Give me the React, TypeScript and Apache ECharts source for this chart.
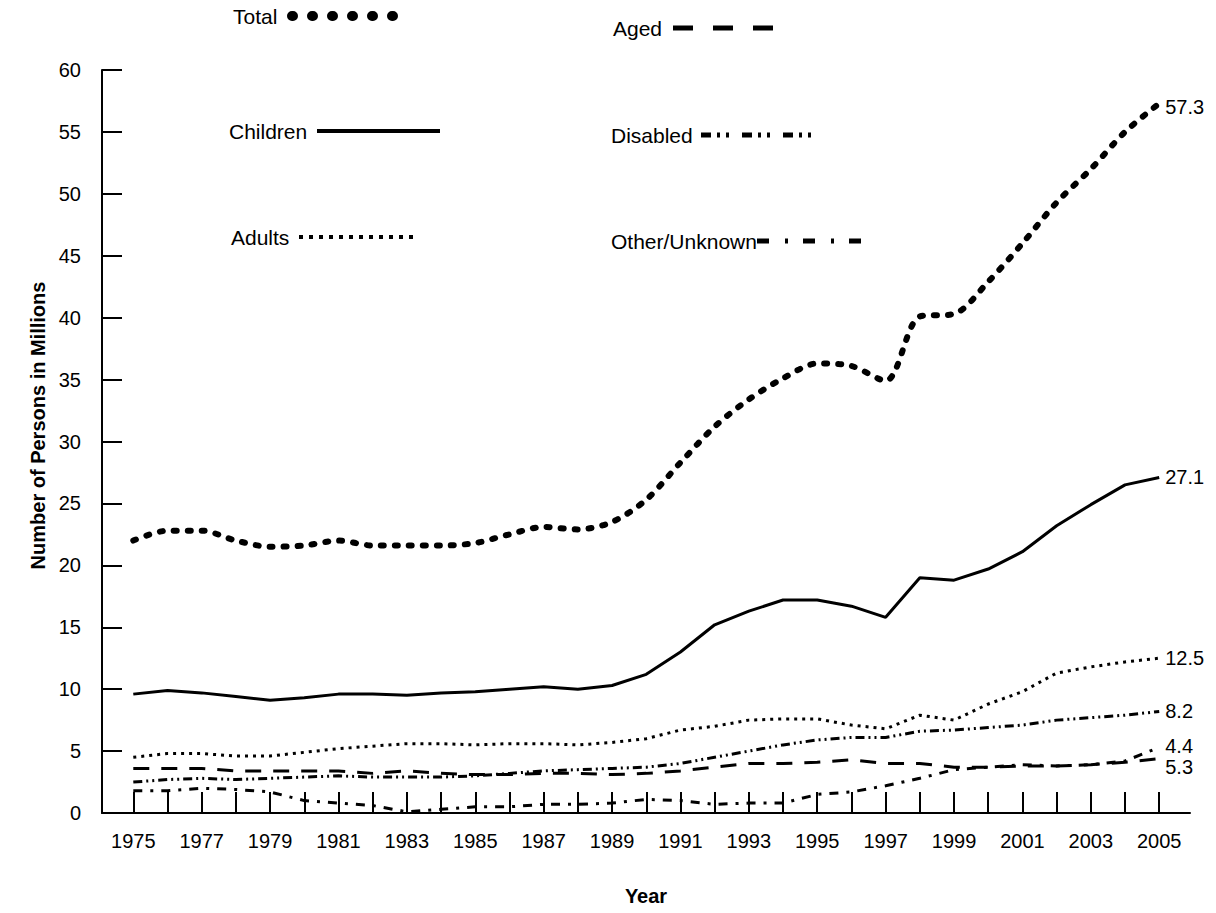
import React, { useEffect, useRef } from 'react';
import * as echarts from 'echarts';

const years = [1975, 1976, 1977, 1978, 1979, 1980, 1981, 1982, 1983, 1984, 1985, 1986, 1987, 1988, 1989, 1990, 1991, 1992, 1993, 1994, 1995, 1996, 1997, 1998, 1999, 2000, 2001, 2002, 2003, 2004, 2005];
const labelYears = [1975, 1977, 1979, 1981, 1983, 1985, 1987, 1989, 1991, 1993, 1995, 1997, 1999, 2001, 2003, 2005];

const total = [22.0, 22.8, 22.8, 22.0, 21.5, 21.6, 22.0, 21.6, 21.6, 21.6, 21.8, 22.5, 23.1, 22.9, 23.5, 25.3, 28.3, 31.2, 33.4, 35.1, 36.3, 36.1, 34.9, 40.1, 40.3, 42.9, 46.0, 49.3, 52.0, 55.0, 57.3];
const children = [9.6, 9.9, 9.7, 9.4, 9.1, 9.3, 9.6, 9.6, 9.5, 9.7, 9.8, 10.0, 10.2, 10.0, 10.3, 11.2, 13.0, 15.2, 16.3, 17.2, 17.2, 16.7, 15.8, 19.0, 18.8, 19.7, 21.1, 23.2, 24.9, 26.5, 27.1];
const adults = [4.5, 4.8, 4.8, 4.6, 4.6, 4.9, 5.2, 5.4, 5.6, 5.6, 5.5, 5.6, 5.6, 5.5, 5.7, 6.0, 6.7, 7.0, 7.5, 7.6, 7.6, 7.1, 6.8, 7.9, 7.5, 8.8, 9.8, 11.3, 11.8, 12.2, 12.5];
const aged = [3.6, 3.6, 3.6, 3.4, 3.4, 3.4, 3.4, 3.2, 3.4, 3.2, 3.1, 3.1, 3.2, 3.2, 3.1, 3.2, 3.4, 3.7, 4.0, 4.0, 4.1, 4.3, 4.0, 4.0, 3.7, 3.7, 3.8, 3.8, 3.9, 4.1, 4.4];
const disabled = [2.5, 2.7, 2.8, 2.7, 2.8, 2.9, 3.0, 2.9, 2.9, 2.9, 3.0, 3.2, 3.4, 3.5, 3.6, 3.7, 4.0, 4.5, 5.0, 5.5, 5.9, 6.1, 6.1, 6.6, 6.7, 6.9, 7.1, 7.5, 7.7, 7.9, 8.2];
const other = [1.8, 1.8, 2.0, 1.9, 1.7, 1.0, 0.8, 0.6, 0.1, 0.3, 0.5, 0.5, 0.7, 0.7, 0.8, 1.1, 1.0, 0.7, 0.8, 0.8, 1.5, 1.7, 2.2, 2.8, 3.5, 3.7, 3.9, 3.8, 3.9, 4.2, 5.3];

const seriesNames = ['Total', 'Children', 'Adults', 'Aged', 'Disabled', 'Other/Unknown'];

const FONT = "'Liberation Sans', Arial, Helvetica, sans-serif";

export default function App() {
  const ref = useRef<HTMLDivElement>(null);

  useEffect(() => {
    const chart = echarts.init(ref.current as HTMLDivElement, null, { renderer: 'svg' });
    const pair = (arr: number[]) => years.map((y, i) => [y, arr[i]]);

    const mk = (name: string, data: number[], lineStyle: any, offset: number[], smooth: any = false) => ({
      name,
      type: 'line',
      data: pair(data),
      showSymbol: false,
      symbol: 'none',
      smooth,
      silent: true,
      lineStyle: { color: '#000', ...lineStyle },
      emphasis: { disabled: true },
      endLabel: {
        show: true,
        formatter: (p: any) => Number(p.value[1]).toFixed(1),
        color: '#000',
        fontSize: 20,
        fontFamily: FONT,
        distance: 6,
        offset,
      },
    });

    const legendText = (text: string, x: number, y: number) => ({
      type: 'text',
      x,
      y,
      silent: true,
      style: {
        text,
        fill: '#000',
        fontSize: 21,
        fontFamily: FONT,
        align: 'left',
        verticalAlign: 'middle',
        textAlign: 'left',
        textVerticalAlign: 'middle',
      },
    });
    const legendLine = (x1: number, x2: number, y: number, lineWidth: number, lineDash: number[] | null, lineCap = 'butt') => ({
      type: 'line',
      silent: true,
      shape: { x1, y1: y, x2, y2: y },
      style: { stroke: '#000', lineWidth, lineDash: lineDash || undefined, lineCap },
    });

    chart.setOption({
      animation: false,
      backgroundColor: '#fff',
      grid: { left: 102, right: 26, top: 70, bottom: 100, containLabel: false },
      xAxis: {
        type: 'value',
        min: 1974.085,
        max: 2005.9,
        name: 'Year',
        nameLocation: 'middle',
        nameGap: 73,
        nameTextStyle: { color: '#000', fontSize: 20, fontWeight: 'bold', fontFamily: FONT },
        axisLine: { show: true, lineStyle: { color: '#000', width: 2 } },
        axisTick: { show: true, inside: true, length: 21, lineStyle: { color: '#000', width: 2 }, customValues: years },
        axisLabel: { color: '#000', fontSize: 20, fontFamily: FONT, margin: 18, customValues: labelYears, formatter: (v: number) => String(v) },
        splitLine: { show: false },
      },
      yAxis: {
        type: 'value',
        min: 0,
        max: 60,
        interval: 5,
        name: 'Number of Persons in Millions',
        nameLocation: 'middle',
        nameRotate: 90,
        nameGap: 53,
        nameTextStyle: { color: '#000', fontSize: 20, fontWeight: 'bold', fontFamily: FONT, padding: [0, 0, 0, 32] },
        axisLine: { show: true, lineStyle: { color: '#000', width: 2 } },
        axisTick: { show: true, inside: true, length: 20, lineStyle: { color: '#000', width: 2 } },
        axisLabel: { color: '#000', fontSize: 20, fontFamily: FONT, margin: 21 },
        splitLine: { show: false },
      },
      series: [
        mk(seriesNames[0], total, { width: 6, type: [3, 11], cap: 'round', join: 'round' }, [0, 4], 0.3),
        mk(seriesNames[1], children, { width: 3, type: 'solid' }, [0, 0]),
        mk(seriesNames[2], adults, { width: 3, type: [3, 5] }, [0, 0]),
        mk(seriesNames[3], aged, { width: 3, type: [16, 12] }, [0, -13]),
        mk(seriesNames[4], disabled, { width: 3, type: [9, 4, 2, 4, 2, 4] }, [0, 0]),
        mk(seriesNames[5], other, { width: 3, type: [9, 8, 3, 8] }, [0, 20]),
      ],
      graphic: [
        legendText(seriesNames[0], 233, 16),
        legendLine(292, 394, 16, 10, [1, 19], 'round'),
        legendText(seriesNames[3], 613, 28),
        legendLine(673, 775, 28, 5, [20, 20]),
        legendText(seriesNames[1], 229, 131),
        legendLine(317, 440, 131, 4, null),
        legendText(seriesNames[4], 611, 135),
        legendLine(701, 815, 135, 5, [10, 6, 3, 6, 3, 13]),
        legendText(seriesNames[2], 231, 237),
        legendLine(299, 418, 237, 4, [4, 6]),
        legendText(seriesNames[5], 611, 241),
        legendLine(757, 872, 241, 5, [12, 16, 3, 15]),
      ],
    });

    return () => chart.dispose();
  }, []);

  return <div ref={ref} style={{ position: 'absolute', left: 0, top: 0, width: 1216, height: 913 }} />;
}
